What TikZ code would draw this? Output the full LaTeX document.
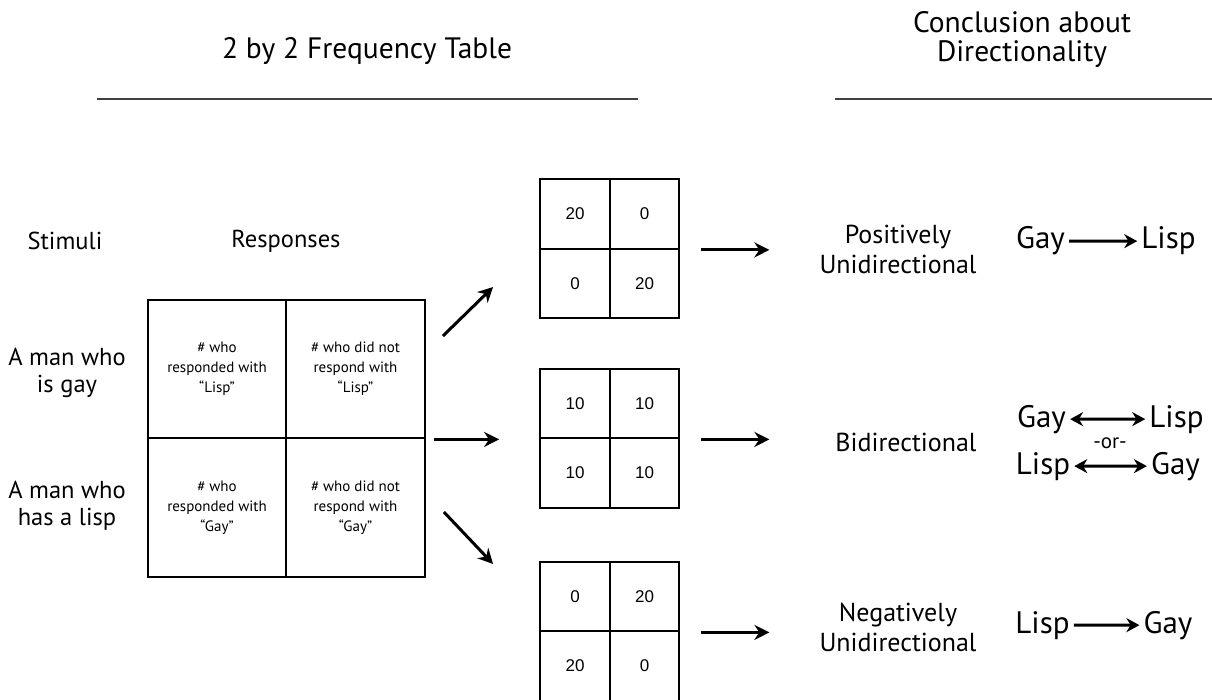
\documentclass[tikz,border=0pt]{standalone}
\usepackage{fontspec}
\setmainfont{PT Sans}
\newfontfamily\numfont{Liberation Sans}
\usetikzlibrary{arrows.meta,positioning}

\begin{document}
\begin{tikzpicture}
  [
   x=1pt,y=-1pt,
   >={Stealth[length=13pt,width=14pt]},
   big/.style={draw,line width=2.3pt,minimum size=138.5pt,inner sep=0pt,align=center,font=\fontsize{15}{20}\selectfont},
   cell/.style={draw,line width=2.3pt,minimum size=69.5pt,inner sep=0pt,font=\numfont\fontsize{17}{18}\selectfont},
   lbl/.style={align=center,font=\fontsize{24.5}{27}\selectfont},
   dlbl/.style={align=center,font=\fontsize{26}{30}\selectfont},
   head/.style={align=center,font=\fontsize{29.5}{29}\selectfont},
   word/.style={anchor=base,inner sep=4pt,font=\fontsize{31}{34}\selectfont},
   arr/.style={line width=3pt,-{Stealth[length=15pt,width=15pt]}},
   dirarr/.style={line width=2.8pt},
   rule/.style={line width=1.4pt,black!75}
  ]
   \useasboundingbox (0,0) rectangle (1212,700);

   % headings
   \node[head] (tab) at (367,51) {2 by 2 Frequency Table};
   \node[head] (con) at (1022,40) {Conclusion about\\Directionality};
   \draw[rule] (97,99) -- (638,99);
   \draw[rule] (835,99) -- (1212,99);

   % stimuli and responses
   \node[lbl] (stim) at (65,241) {Stimuli};
   \node[lbl] (resp) at (286,241) {Responses};
   \node[lbl] (sgay) at (67,373) {A man who\\is gay};
   \node[lbl] (slisp) at (67,506) {A man who\\has a lisp};

   \node[big] (b11) at (217,369) {\# who\\responded with\\``Lisp''};
   \node[big] (b12) at (355.5,369) {\# who did not\\respond with\\``Lisp''};
   \node[big] (b21) at (217,507.5) {\# who\\responded with\\``Gay''};
   \node[big] (b22) at (355.5,507.5) {\# who did not\\respond with\\``Gay''};

   % outcome tables
   \node[cell] (t1c11) at (575,214) {20};
   \node[cell] (t1c12) at (644.5,214) {0};
   \node[cell] (t1c21) at (575,283.5) {0};
   \node[cell] (t1c22) at (644.5,283.5) {20};

   \node[cell] (t2c11) at (575,403.5) {10};
   \node[cell] (t2c12) at (644.5,403.5) {10};
   \node[cell] (t2c21) at (575,473) {10};
   \node[cell] (t2c22) at (644.5,473) {10};

   \node[cell] (t3c11) at (575,596.5) {0};
   \node[cell] (t3c12) at (644.5,596.5) {20};
   \node[cell] (t3c21) at (575,666) {20};
   \node[cell] (t3c22) at (644.5,666) {0};

   \draw[arr] ([shift={(17,-33)}]b12.east) -- ([shift={(-46,3.5)}]t1c21.west);
   \draw[arr] ([xshift=8pt]b12.south east) -- ([xshift=-40pt]t2c11.south west);
   \draw[arr] ([shift={(18,4.5)}]b22.east) -- ([shift={(-46,-32.5)}]t3c11.west);

   % conclusions
   \node[dlbl] (pos) at (898,249) {Positively\\Unidirectional};
   \node[dlbl] (bid) at (906,442) {Bidirectional};
   \node[dlbl] (neg) at (898,627) {Negatively\\Unidirectional};

   \draw[arr] ([xshift=21pt]t1c12.south east) -- ++(68,0);
   \draw[arr] ([xshift=21pt]t2c12.south east) -- ++(68,0);
   \draw[arr] ([xshift=21pt]t3c12.south east) -- ++(68,0);

   \node[word] (g1) at (1040.5,249) {Gay};
   \node[word] (l1) at (1168.5,249) {Lisp};
   \draw[dirarr,->] (g1) -- (l1);

   \node[word] (g2) at (1041.5,427) {Gay};
   \node[word] (l2) at (1176.5,427) {Lisp};
   \node[font=\fontsize{21}{22}\selectfont,inner sep=0pt] (or) at (1110,443) {-or-};
   \node[word] (l3) at (1043,474) {Lisp};
   \node[word] (g3) at (1175.5,474) {Gay};
   \draw[dirarr,<->] (g2) -- (l2);
   \draw[dirarr,<->] (l3) -- (g3);

   \node[word] (l4) at (1042.5,633) {Lisp};
   \node[word] (g4) at (1168,633) {Gay};
   \draw[dirarr,->] (l4) -- (g4);

\end{tikzpicture}
\end{document}
